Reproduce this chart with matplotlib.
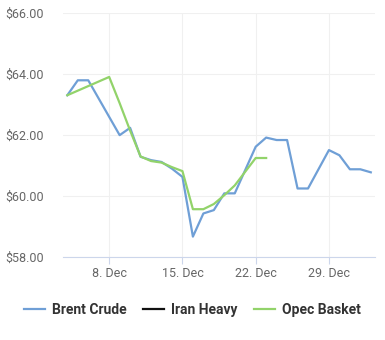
import numpy as np
import matplotlib
matplotlib.use("Agg")
import matplotlib.pyplot as plt
import matplotlib.dates as mdates
from datetime import datetime, timedelta

plt.rcParams['font.family'] = ['Roboto', 'DejaVu Sans']

# daily prices, December (days past 31 run into January)
brent_days = [4, 5, 6, 9, 10, 11, 12, 13, 14, 15, 16, 17, 18, 19, 20,
              22, 23, 24, 25, 26, 27, 29, 30, 31, 32, 33]
brent_vals = [63.31, 63.80, 63.80, 62.00, 62.24, 61.29, 61.18, 61.12, 60.90, 60.63,
              58.67, 59.43, 59.54, 60.09, 60.09,
              61.62, 61.92, 61.84, 61.84, 60.25, 60.25, 61.51, 61.34, 60.88, 60.88, 60.78]

iran_days = []
iran_vals = []

opec_days = [4, 8, 9, 10, 11, 12, 13, 14, 15, 16, 17, 18, 19, 20, 22, 23]
opec_vals = [63.31, 63.91, 63.05, 62.15, 61.30, 61.15, 61.10, 60.95, 60.82,
             59.57, 59.57, 59.74, 60.03, 60.35, 61.25, 61.25]

labels = ["Brent Crude", "Iran Heavy", "Opec Basket"]
colors = ["#6f9fd6", "#111111", "#92d36a"]

base = datetime(2025, 12, 1)


def to_dates(days):
    return [base + timedelta(days=d - 1) for d in days]


fig = plt.figure(figsize=(3.85, 3.4), dpi=100)
ax = fig.add_axes([0.164, 0.244, 0.81, 0.717])

ax.plot(to_dates(brent_days), brent_vals, color=colors[0], lw=1.6, label=labels[0])
ax.plot(to_dates(iran_days), iran_vals, color=colors[1], lw=1.6, label=labels[1])
ax.plot(to_dates(opec_days), opec_vals, color=colors[2], lw=1.6, label=labels[2])

ax.set_ylim(58, 66)
ax.set_yticks([58, 60, 62, 64, 66])
ax.set_yticklabels([f"${v:.2f}" for v in [58, 60, 62, 64, 66]])
ax.set_xlim(base + timedelta(days=2.6), base + timedelta(days=32.4))
ax.set_xticks(to_dates([8, 15, 22, 29]))
ax.xaxis.set_major_formatter(mdates.DateFormatter("%-d. %b"))

for s in ["top", "right", "left"]:
    ax.spines[s].set_visible(False)
ax.spines["bottom"].set_color("#ccd6eb")
ax.grid(True, color="#f0f0f0", lw=0.8)
ax.set_axisbelow(True)
ax.tick_params(axis="y", length=0, pad=14, labelsize=9, labelcolor="#666666")
ax.tick_params(axis="x", length=5, color="#ccd6eb", pad=2, labelsize=9, labelcolor="#666666")

leg = fig.legend(loc="center", bbox_to_anchor=(0.5, 0.088), ncol=3, frameon=False,
                 prop={"size": 10, "weight": "bold"}, handlelength=1.5,
                 handletextpad=0.5, columnspacing=1.2)
for t in leg.get_texts():
    t.set_color("#333333")

fig.savefig("out.png", dpi=100)
